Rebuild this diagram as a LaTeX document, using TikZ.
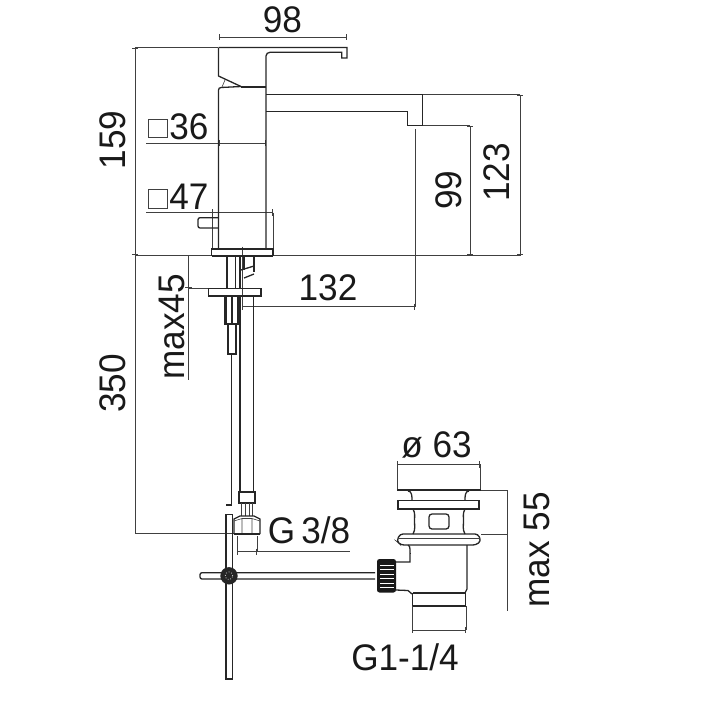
\documentclass[tikz,border=0pt]{standalone}
\usepackage{fontspec}
\setmainfont[FakeStretch=0.95]{Liberation Sans}
\tikzset{
    outline/.style={line width=1.3pt, black!85},
    heavy/.style={line width=2.2pt, black!85},
    dimline/.style={line width=0.6pt, black!75},
    dimtick/.style={dimline, |-|, >=stealth},
    label/.style={inner sep=0pt, font=\fontsize{37}{37}\selectfont, black!90},
    sidelabel/.style={label, rotate=90}
}
\begin{document}
\begin{tikzpicture}[x=1pt,y=-1pt]
        \useasboundingbox (0,0) rectangle (704,715);

        % Quote rubinetto
        \draw[dimtick] (218.5,37) -- (347,37);
        \draw[dimline] (135,47.5) -- (218,47.5);
        \draw[dimtick] (135,47.5) -- (135,255);
        \draw[dimline] (135,255) -- (212,255) (273,255) -- (521,255);
        \draw[dimline] (135,255) -- (135,533) -- (235,533);
        \draw[dimline] (146,143) -- (218.5,143);
        \draw[dimtick] (218.5,143) -- (266,143);
        \draw[dimline] (146,212.5) -- (212,212.5);
        \draw[dimtick] (212,212.5) -- (273,212.5);
        \draw[dimline] (212,212.5) -- (212,249) (273,212.5) -- (273,249);
        \draw[dimline] (423,94.5) -- (520,94.5);
        \draw[dimtick] (520,94.5) -- (520,255);
        \draw[dimline] (423,125.7) -- (470,125.7);
        \draw[dimtick] (470,125.7) -- (470,255);
        \draw[dimline] (415,129) -- (415,306.7);
        \draw[dimtick] (242.3,306.7) -- (415,306.7);
        \draw[dimline] (242.3,246.5) -- (242.3,306.7);
        \draw[dimline] (188.3,288) -- (208,288);
        \draw[dimtick] (188.3,255) -- (188.3,288);
        \draw[dimline] (188.3,288) -- (188.3,380);

        % Leva e corpo
        \draw[outline] (218.5,47.5) -- (347,47.5) -- (347,58) -- (341.7,58) -- (341.7,52.3)
            -- (270,52.3) to[out=180,in=90] (266,56) -- (266,249);
        \draw[outline] (218.5,47.5) -- (218.5,76) -- (241,86.5);
        \draw[heavy] (241,86.7) -- (266,86.7);
        \draw[outline] (241,86.5) -- (221,87.5) to[out=180,in=90] (218.5,90) -- (218.5,249);
        \draw[dimline] (225,80) -- (222,87);

        % Bocca
        \draw[outline] (266,94.5) -- (422.7,94.5) -- (422.7,125.7) -- (407.3,125.7)
            -- (407.3,111.5) -- (266,111.5);

        % Pulsante e rosone
        \draw[outline, rounded corners=2pt] (218.5,217.7) -- (198,217.7) -- (198,228) -- (218.5,228);
        \draw[outline] (211.7,249) rectangle (273,255.7);
        \draw[heavy] (211.7,255.7) -- (273,255.7);

        % Gambo e flessibili
        \draw[heavy] (227,256) -- (227,288);
        \draw[outline] (235.7,256) -- (235.7,288) (240,256) -- (240,288);
        \draw[outline] (254,256) -- (254,272) (244,270) -- (244,256);
        \draw[outline] (241,270) -- (254,266) (244,278) -- (254,274);
        \draw[outline] (208.3,288.3) rectangle (261,296);
        \draw[heavy] (225.5,296) -- (225.5,324) -- (238,324) -- (238,296);
        \draw[outline] (232,296) -- (232,324);
        \draw[outline] (228,324) -- (228,354) -- (236,354) -- (236,324);
        \draw[outline] (231.7,354) -- (231.7,505) -- (226,505);
        \draw[outline] (240,296) -- (240,492) (253.3,296) -- (253.3,492);

        % Raccordo G 3/8
        \draw[outline] (239,492) rectangle (255,503);
        \draw[dimline] (241.5,503) -- (241.5,516) (252.5,503) -- (252.5,516);
        \draw[dimline] (245,503) -- (245,516) (249,503) -- (249,516);
        \draw[outline] (234,534) -- (234,519) -- (240,516) -- (254,516) -- (260,519) -- (260,534);
        \draw[dimline] (234,521) -- (242,518.5) -- (252,518.5) -- (260,521) (242,518.5) -- (242,533) (252,518.5) -- (252,533);
        \draw[heavy] (234,534) -- (260,534);
        \draw[dimline] (237,536) -- (237,552) (257,536) -- (257,552);
        \draw[dimtick] (237,551.7) -- (257,551.7);
        \draw[dimline] (257,551.7) -- (350,551.7);

        % Asta di comando
        \draw[outline] (226,514.3) rectangle (232.3,679);
        \draw[outline, fill=white, rounded corners=2pt] (375,572.7) -- (200,572.7) -- (200,579) -- (375,579);
        \fill[black!85] (229,575.8) circle (8.7pt);
        \draw[white, line width=0.7pt, dotted] (229,575.8) circle (3.8pt);

        % Piletta
        \draw[dimline] (397.3,464.3) -- (397.3,490) (480,464.3) -- (480,490);
        \draw[dimtick] (397.3,464.3) -- (480,464.3);
        \draw[heavy] (397,490) -- (481,490);
        \draw[outline] (408,491) to[out=0,in=90] (412,500.5) (469,491) to[out=180,in=90] (465,500.5);
        \draw[outline] (398,500.7) rectangle (479,509);
        \draw[outline] (413,509) to[out=-60,in=90] (414.5,521) to[out=-90,in=60] (413,534);
        \draw[outline] (465,509) to[out=-120,in=90] (463.5,521) to[out=-90,in=120] (465,534);
        \draw[outline, rounded corners=3pt] (429,514) rectangle (449,529);
        \draw[outline, rounded corners=3pt] (396.7,541) -- (400,534) -- (478,534) -- (481,541) -- (476,545) -- (401,545) -- cycle;
        \draw[dimline] (398,538) -- (480,538);
        \draw[outline] (408,545) to[out=0,in=-90] (410,552) -- (410,562) -- (396,562);
        \draw[outline] (467,545) -- (467,589) -- (465,593);
        \draw[outline] (396,590) -- (408,590.5) -- (412,594);
        \fill[black!90, rounded corners=2.5pt] (377,559) rectangle (396,592.5);
        \foreach \ry in {565,569.5,574,578.5,583,587.5}
            \draw[white, line width=0.6pt] (380,\ry) -- (394,\ry);
        \draw[outline] (412.5,593) -- (412.5,606) (465.5,593) -- (465.5,606);
        \draw[outline] (412.5,593) -- (465.5,593);
        \draw[heavy] (412.5,606) -- (465.5,606);
        \draw[dimline] (412,606) -- (412,630) (466,606) -- (466,630);
        \draw[dimtick] (412,630) -- (466,630);
        \draw[dimline] (481,490) -- (507.3,490) (481,534) -- (507.3,534);
        \draw[dimline] (507.3,490) -- (507.3,611);

        % Quadrati
        \draw[dimline] (148,119.5) rectangle (167,137.5);
        \draw[dimline] (148,189.5) rectangle (167,208);

        % Etichette
        \node[label] (width98) at (282.5,20) {98};
        \node[sidelabel] (height159) at (113,140) {159};
        \node[label] (side36) at (189,127) {36};
        \node[label] (side47) at (189,197) {47};
        \node[sidelabel] (height99) at (449,190) {99};
        \node[sidelabel] (height123) at (497,172.5) {123};
        \node[label] (reach132) at (328,288) {132};
        \node[sidelabel] (max45) at (172,327) {max45};
        \node[sidelabel] (length350) at (113,383.5) {350};
        \node[label] (dia63) at (436.5,445) {ø 63};
        \node[label] (thread38) at (309,530.5) {G\,3/8};
        \node[sidelabel] (max55) at (537,550) {max 55};
        \node[label] (thread114) at (405,657) {G1-1/4};
\end{tikzpicture}
\end{document}
